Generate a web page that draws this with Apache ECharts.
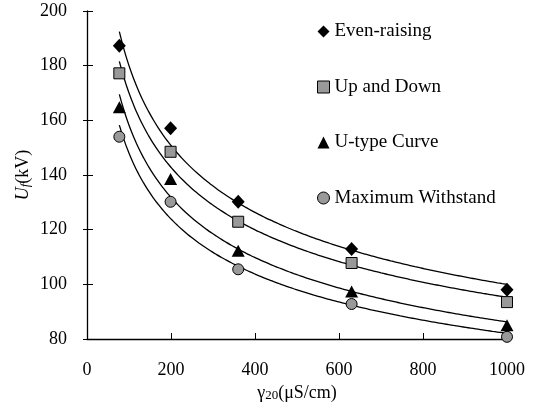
<!DOCTYPE html>
<html>
<head>
<meta charset="utf-8">
<script src="https://cdn.jsdelivr.net/npm/echarts@6/dist/echarts.min.js"></script>
<style>html,body{margin:0;padding:0;background:#fff;}#c{width:536px;height:416px;}</style>
</head>
<body>
<div id="c"></div>
<script>
// ---- data ----
const conductivity = [77, 199, 360, 630, 1000];           // γ20 (µS/cm)
const evenRaising   = [187.3, 157.1, 130.2, 112.9, 98.0];  // kV
const upAndDown     = [177.2, 148.5, 122.9, 107.8, 93.5];
const uTypeCurve    = [164.8, 138.5, 112.3, 97.4, 85.0];
const maxWithstand  = [154.0, 130.2, 105.5, 92.8, 80.8];
const seriesNames = ['Even-raising', 'Up and Down', 'U-type Curve', 'Maximum Withstand'];
const xTicks = { min: 0, max: 1000, interval: 200 };
const yTicks = { min: 80, max: 200, interval: 20 };

// power-law trendline (least squares on log-log), like a spreadsheet "power" trendline
function powerFit(xs, ys) {
  const lx = xs.map(Math.log), ly = ys.map(Math.log);
  const n = xs.length;
  const mx = lx.reduce((a, b) => a + b, 0) / n, my = ly.reduce((a, b) => a + b, 0) / n;
  let sxy = 0, sxx = 0;
  for (let i = 0; i < n; i++) { sxy += (lx[i] - mx) * (ly[i] - my); sxx += (lx[i] - mx) ** 2; }
  const b = sxy / sxx, a = Math.exp(my - b * mx);
  const x0 = Math.min(...xs), x1 = Math.max(...xs);
  const pts = [];
  const N = 80;
  for (let k = 0; k <= N; k++) {
    const x = x0 + (x1 - x0) * k / N;
    pts.push([x, a * Math.pow(x, b)]);
  }
  return pts;
}

const font = '"Times New Roman", "Liberation Serif", serif';
const sets = [evenRaising, upAndDown, uTypeCurve, maxWithstand];
const symbols = ['diamond', 'rect', 'triangle', 'circle'];
const sizes = [[13, 14], 11, [13, 12], 11];
const fills = ['#000000', '#999999', '#000000', '#999999'];

const series = [];
sets.forEach((ys, i) => {
  series.push({
    type: 'line', data: powerFit(conductivity, ys), showSymbol: false, symbol: 'none',
    smooth: true, lineStyle: { color: '#000', width: 1.3 }, silent: true, z: 2, clip: false
  });
});
sets.forEach((ys, i) => {
  series.push({
    name: seriesNames[i], type: 'scatter', data: conductivity.map((x, j) => [x, ys[j]]),
    symbol: symbols[i], symbolSize: sizes[i], clip: false, z: 5,
    itemStyle: { color: fills[i], borderColor: '#000', borderWidth: fills[i] === '#000000' ? 0 : 1, opacity: 1 }
  });
});

const chart = echarts.init(document.getElementById('c'), null, { renderer: 'canvas' });
chart.setOption({
  animation: false,
  backgroundColor: '#fff',
  textStyle: { fontFamily: font },
  grid: { left: 87, right: 29, top: 11, bottom: 77, containLabel: false },
  legend: {
    orient: 'vertical', left: 312, top: 17, itemGap: 36.5, itemWidth: 12, itemHeight: 12,
    data: seriesNames.map((n, i) => ({ name: n, itemStyle: { color: fills[i], borderColor: '#000', borderWidth: fills[i] === '#000000' ? 0 : 1 } })),
    textStyle: { fontFamily: font, fontSize: 19, color: '#000' }
  },
  xAxis: {
    type: 'value', min: xTicks.min, max: xTicks.max, interval: xTicks.interval,
    splitLine: { show: false },
    axisLine: { show: true, onZero: false, lineStyle: { color: '#000', width: 1.3 } },
    axisTick: { show: true, inside: true, length: 6, lineStyle: { color: '#000' } },
    axisLabel: { margin: 22, color: '#000', fontFamily: font, fontSize: 18, formatter: v => String(v) },
    name: '{g|γ}{s|20}{g|(μS/cm)}', nameLocation: 'middle', nameGap: 42,
    nameTextStyle: { rich: {
      g: { fontFamily: font, fontSize: 18, color: '#000' },
      s: { fontFamily: font, fontSize: 13, color: '#000', padding: [6, 0, 0, 0] }
    } }
  },
  yAxis: [{
    type: 'value', min: yTicks.min, max: yTicks.max, interval: yTicks.interval,
    splitLine: { show: false },
    axisLine: { show: true, lineStyle: { color: '#000', width: 1.3 } },
    axisTick: { show: true, inside: true, length: 6, lineStyle: { color: '#000' } },
    axisLabel: { margin: 20, color: '#000', fontFamily: font, fontSize: 18, formatter: v => String(v) },
    name: '{u|U}{f|f}{k|(kV)}', nameLocation: 'middle', nameGap: 64, nameRotate: 90,
    nameMoveOverlap: false,
    nameTextStyle: { verticalAlign: 'middle', rich: {
      u: { fontFamily: font, fontSize: 18, fontStyle: 'italic', color: '#000' },
      f: { fontFamily: font, fontSize: 13, fontStyle: 'italic', color: '#000', padding: [6, 0, 0, 0] },
      k: { fontFamily: font, fontSize: 18, color: '#000' }
    } }
  }, {
    type: 'value', position: 'left', min: yTicks.min, max: yTicks.max, interval: yTicks.interval,
    splitLine: { show: false }, axisLine: { show: false },
    axisTick: { show: true, inside: false, length: 4, lineStyle: { color: '#000' } },
    axisLabel: { show: false }
  }],
  series: series
});
</script>
</body>
</html>
